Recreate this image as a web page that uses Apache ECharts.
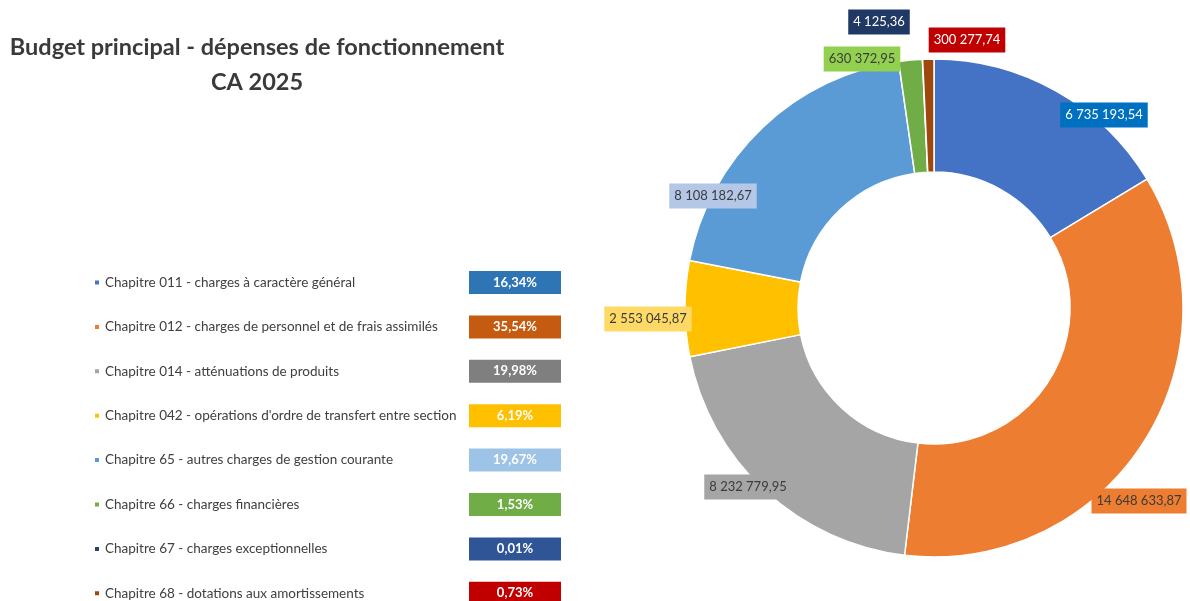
<!DOCTYPE html>
<html>
<head>
<meta charset="utf-8">
<script src="https://cdn.jsdelivr.net/npm/echarts@6/dist/echarts.min.js"></script>
<style>
html,body{margin:0;padding:0;background:#fff;}
#chart{width:1190px;height:601px;}
</style>
</head>
<body>
<div id="chart"></div>
<script>
// ---- data ----
const categories = [
  "Chapitre 011 - charges à caractère général",
  "Chapitre 012 - charges de personnel et de frais assimilés",
  "Chapitre 014 - atténuations de produits",
  "Chapitre 042 - opérations d'ordre de transfert entre section",
  "Chapitre 65 - autres charges de gestion courante",
  "Chapitre 66 - charges financières",
  "Chapitre 67 - charges exceptionnelles",
  "Chapitre 68 - dotations aux amortissements"
];
const values = [6735193.54, 14648633.87, 8232779.95, 2553045.87, 8108182.67, 630372.95, 4125.36, 300277.74];
const valueLabels = ["6 735 193,54", "14 648 633,87", "8 232 779,95", "2 553 045,87", "8 108 182,67", "630 372,95", "4 125,36", "300 277,74"];
const pctLabels = ["16,34%", "35,54%", "19,98%", "6,19%", "19,67%", "1,53%", "0,01%", "0,73%"];

// ---- styles ----
const sliceColors = ["#4472C4", "#ED7D31", "#A5A5A5", "#FFC000", "#5B9BD5", "#70AD47", "#264478", "#9E480E"];
const labelBg = ["#0070C0", "#ED7D31", "#A5A5A5", "#FFD966", "#B4C7E7", "#92D050", "#203864", "#C00000"];
const labelFg = ["#ffffff", "#3b3b3b", "#3b3b3b", "#3b3b3b", "#3b3b3b", "#3b3b3b", "#ffffff", "#ffffff"];
const pctBg = ["#2E75B6", "#C55A11", "#7F7F7F", "#FFC000", "#9DC3E6", "#70AD47", "#2F5597", "#C00000"];
const labelAnchor = [[1104,115],[1139,501],[748,487],[648,319],[713,196],[862,59],[879,22],[967,40]];

const chart = echarts.init(document.getElementById('chart'), null, {renderer: 'canvas'});

const rich = {
  n: {fontFamily: 'Lato', fontSize: 13.5, color: '#404040', width: 364, align: 'left'}
};
pctLabels.forEach((p, i) => {
  rich['p' + i] = {
    fontFamily: 'Lato', fontSize: 13, fontWeight: 'bold', color: '#ffffff',
    backgroundColor: pctBg[i], width: 92, height: 23, align: 'center', lineHeight: 23
  };
});

const option = {
  backgroundColor: '#ffffff',
  animation: false,
  title: {
    text: 'Budget principal - dépenses de fonctionnement\nCA 2025',
    left: 252, top: 25,
    textAlign: 'center',
    textStyle: {fontFamily: 'Lato', fontSize: 23.5, fontWeight: 'bold', color: '#3a3a3a', lineHeight: 35, align: 'center'}
  },
  legend: {
    orient: 'vertical',
    left: 88, top: 266,
    height: 360,
    itemGap: 21.4,
    itemWidth: 6, itemHeight: 6,
    icon: 'rect',
    selectedMode: false,
    data: categories,
    formatter: function (name) {
      const i = categories.indexOf(name);
      return '{n|' + name + '}{p' + i + '|' + pctLabels[i] + '}';
    },
    textStyle: {rich: rich}
  },
  series: [{
    type: 'pie',
    center: [934, 308],
    radius: [136, 249],
    startAngle: 90,
    clockwise: true,
    avoidLabelOverlap: false,
    itemStyle: {borderColor: '#ffffff', borderWidth: 1.5},
    labelLine: {show: false},
    label: {
      show: true,
      position: 'outside',
      fontFamily: 'Lato', fontSize: 13, lineHeight: 17,
      padding: [4, 5, 4, 5]
    },
    labelLayout: function (params) {
      const a = labelAnchor[params.dataIndex];
      return {x: a[0], y: a[1], align: 'center', verticalAlign: 'middle'};
    },
    data: categories.map((c, i) => ({
      name: c,
      value: values[i],
      itemStyle: {color: sliceColors[i]},
      label: {
        formatter: valueLabels[i],
        color: labelFg[i],
        backgroundColor: labelBg[i]
      }
    }))
  }]
};
chart.setOption(option);
</script>
</body>
</html>
